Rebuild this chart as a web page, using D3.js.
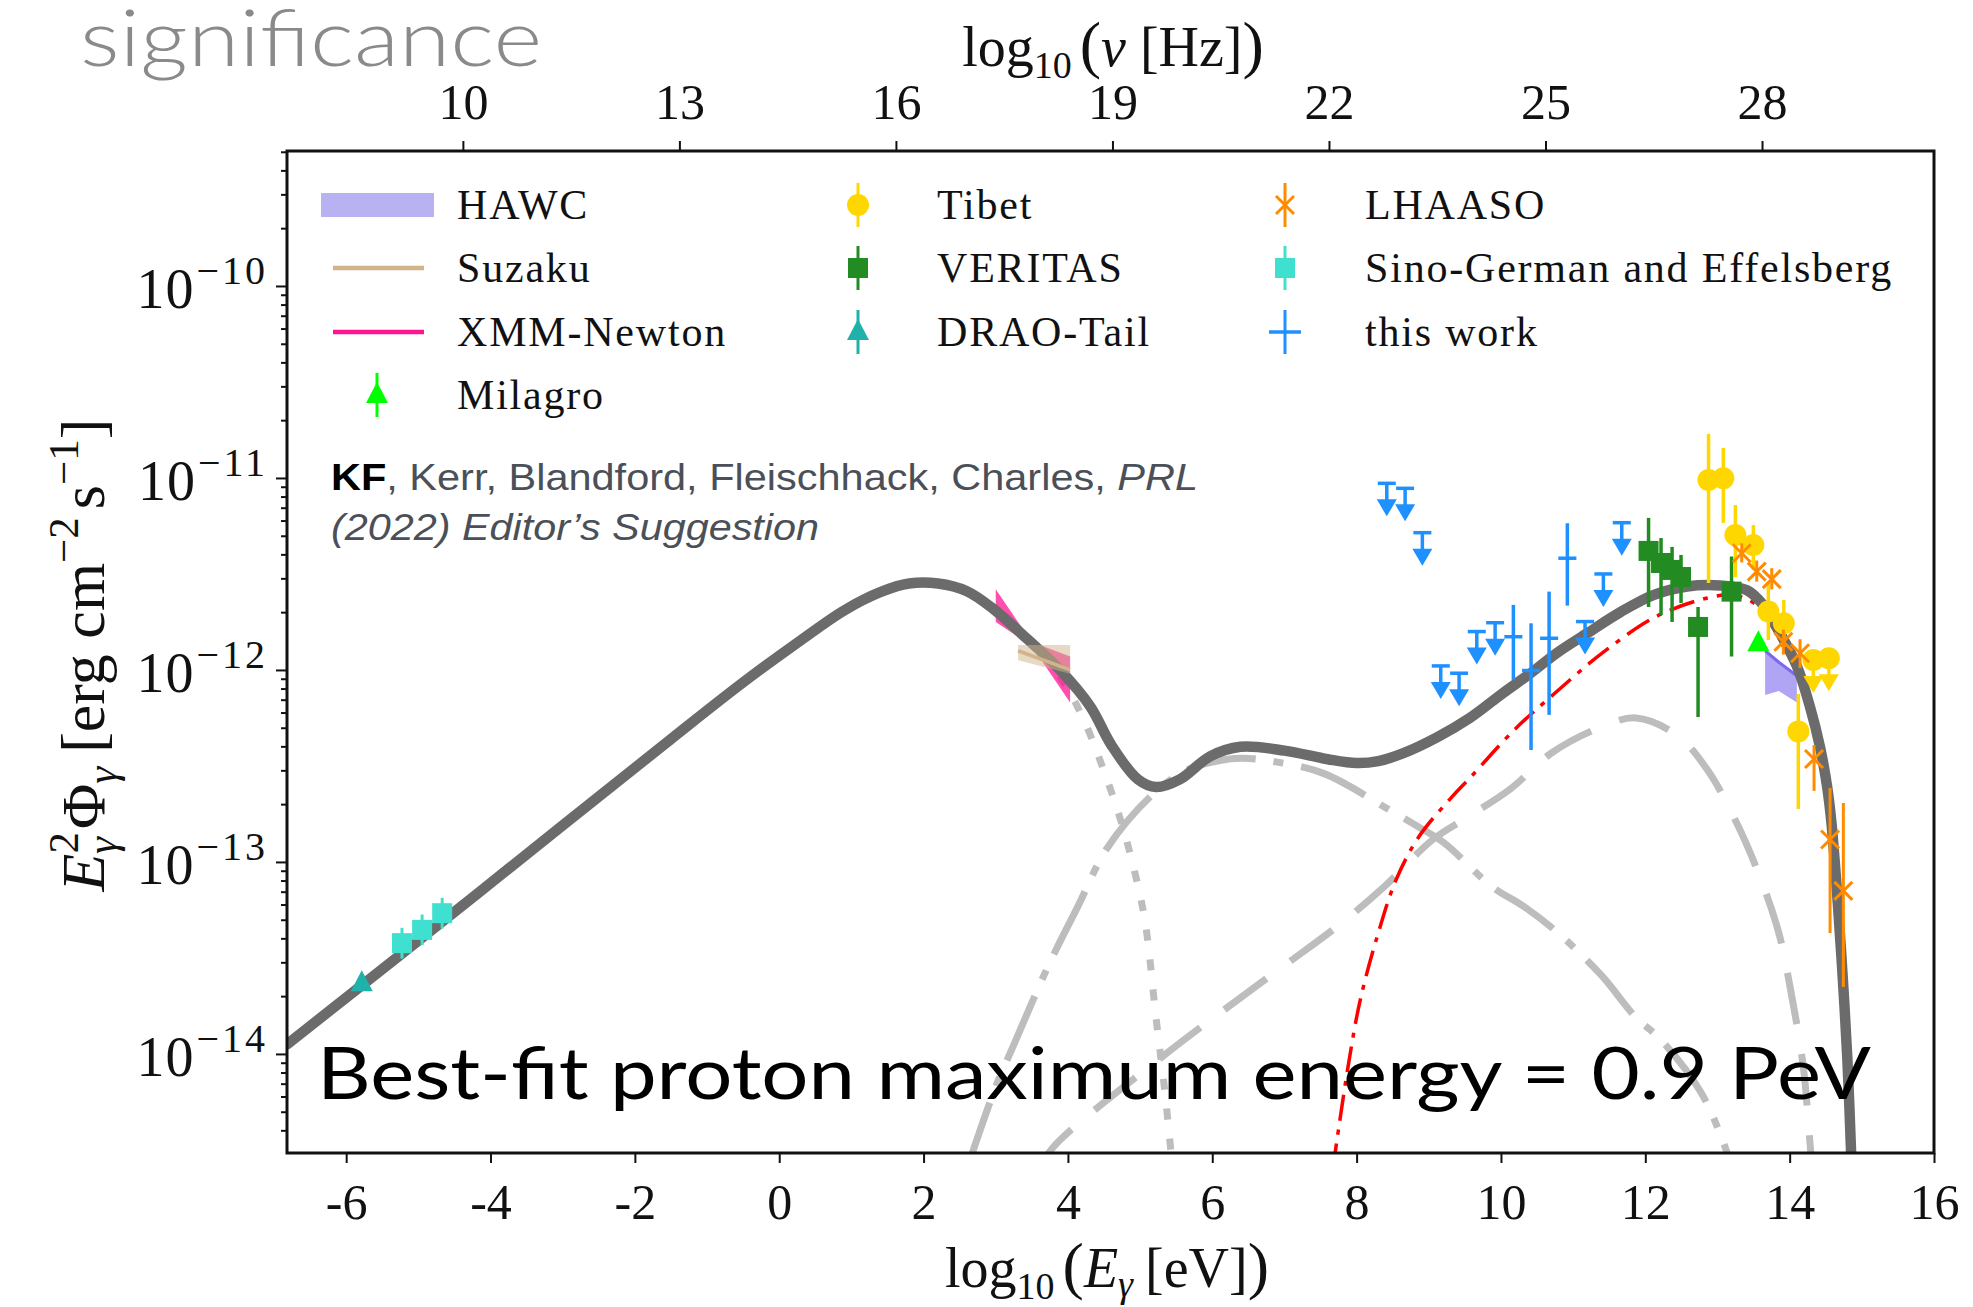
<!DOCTYPE html>
<html><head><meta charset="utf-8">
<script src="https://cdn.jsdelivr.net/npm/d3@7"></script>
<style>body{margin:0;background:#fff;}</style>
</head><body>
<svg id="chart" width="1973" height="1307" xmlns="http://www.w3.org/2000/svg"></svg>
<script>
// ---------------- DATA (x = log10(E/eV), y = log10(E^2 Phi)) ----------------
const xTicks = [-6,-4,-2,0,2,4,6,8,10,12,14,16];
const nuTicks = [10,13,16,19,22,25,28];
const yTickExps = [-10,-11,-12,-13,-14];
const yMinorMantissas = [2,3,4,5,6,7,8,9];

const totalModel = [[-6.82,-13.95],[-5,-13.41],[-3,-12.81],[-1.5,-12.36],[-0.5,-12.065],[0.3,-11.845],[0.9,-11.69],[1.4,-11.595],[1.8,-11.55],[2.2,-11.55],[2.6,-11.59],[2.96,-11.68],[3.44,-11.84],[3.89,-12.0],[4.31,-12.19],[4.6,-12.39],[4.97,-12.57],[5.22,-12.61],[5.55,-12.57],[5.97,-12.45],[6.39,-12.40],[7.0,-12.42],[7.6,-12.465],[8.0,-12.485],[8.3,-12.475],[8.64,-12.435],[9.12,-12.35],[9.57,-12.25],[10.03,-12.12],[10.4,-12.02],[10.78,-11.91],[11.19,-11.81],[11.65,-11.70],[12.11,-11.61],[12.58,-11.565],[13.04,-11.56],[13.41,-11.585],[13.63,-11.66],[13.87,-11.81],[14.1,-11.98],[14.28,-12.19],[14.42,-12.4],[14.52,-12.61],[14.58,-12.8],[14.67,-13.23],[14.74,-13.63],[14.8,-14.03],[14.86,-14.6]];
const synchrotron = [[3.0,-11.70],[3.5,-11.87],[3.9,-12.04],[4.22,-12.26],[4.56,-12.59],[4.72,-12.77],[4.85,-12.94],[5.06,-13.29],[5.22,-13.81],[5.35,-14.22],[5.45,-14.6]];
const inverseCompton = [[2.6,-14.6],[3.0,-14.17],[3.23,-13.97],[3.73,-13.54],[4.14,-13.23],[4.54,-12.93],[5.14,-12.66],[5.6,-12.53],[6.0,-12.48],[6.4,-12.46],[6.9,-12.48],[7.55,-12.54],[8.46,-12.73],[8.87,-12.82],[9.21,-12.9],[9.88,-13.13],[10.31,-13.23],[10.79,-13.37],[11.39,-13.59],[11.87,-13.81],[12.2,-13.92],[12.77,-14.2],[13.1,-14.48],[13.2,-14.6]];
const secondaryComponent = [[3.6,-14.6],[3.81,-14.48],[5.39,-13.99],[6.22,-13.755],[6.97,-13.547],[7.72,-13.339],[8.38,-13.13],[9.05,-12.885],[9.54,-12.766],[10.13,-12.62],[10.71,-12.43],[11.37,-12.30],[11.87,-12.25],[12.44,-12.34],[12.86,-12.52],[13.27,-12.80],[13.60,-13.09],[13.85,-13.37],[14.02,-13.68],[14.19,-14.07],[14.27,-14.41],[14.31,-14.6]];
const pionDecay = [[7.67,-14.6],[7.88,-14.07],[8.05,-13.72],[8.30,-13.37],[8.55,-13.09],[8.86,-12.87],[9.3,-12.67],[9.6,-12.55],[10.19,-12.31],[10.75,-12.12],[11.41,-11.91],[12.16,-11.72],[12.86,-11.625],[13.2,-11.61],[13.5,-11.65],[13.8,-11.8],[14.1,-12.02],[14.3,-12.25],[14.5,-12.66],[14.64,-13.15],[14.74,-13.7],[14.84,-14.6]];

// this work: upper limits [x, y]
const thisWorkUL = [[8.418,-11.028],[8.672,-11.054],[8.911,-11.285],[9.166,-11.979],[9.42,-12.017],[9.665,-11.80],[9.919,-11.754],[11.165,-11.748],[11.419,-11.50],[11.674,-11.233]];
// this work: detections [x, y, yLow, yHigh]
const thisWork = [[10.172,-11.827,-12.052,-11.661],[10.417,-12.003,-12.417,-11.757],[10.667,-11.835,-12.234,-11.592],[10.92,-11.418,-11.665,-11.236]];
const thisWorkXerr = 0.125;
const veritas = [[12.045,-11.38,-11.672,-11.208],[12.218,-11.443,-11.714,-11.313],[12.371,-11.479,-11.75,-11.359],[12.495,-11.516,-11.651,-11.401],[12.731,-11.776,-12.245,-11.672],[13.195,-11.592,-11.93,-11.409]];
const tibet = [[12.876,-11.01,-11.547,-10.771],[13.081,-11.002,-11.234,-10.844],[13.248,-11.297,-11.516,-11.141],[13.497,-11.349,-11.479,-11.245],[13.705,-11.696,-11.844,-11.547],[13.919,-11.757,-11.88,-11.635],[14.12,-12.32,-12.724,-12.125]];
const tibetUL = [[14.328,-11.948],[14.543,-11.939]];
const lhaaso = [[13.336,-11.392,-11.44,-11.34],[13.544,-11.488,-11.54,-11.43],[13.752,-11.527,-11.58,-11.47],[13.913,-11.853,-11.92,-11.79],[14.144,-11.913,-11.99,-11.84],[14.338,-12.464,-12.63,-12.391],[14.56,-12.883,-13.37,-12.615],[14.744,-13.151,-13.651,-12.693]];
const milagro = [[13.566,-11.861]];
const hawcX = [13.66,13.85,14.10];
const hawcUpper = [-11.90,-11.96,-12.03];
const hawcLower = [-12.13,-12.11,-12.17];
const xmmX = [3.0,3.5,4.03];
const xmmUpper = [-11.58,-11.855,-11.93];
const xmmLower = [-11.75,-11.875,-12.17];
const suzakuX = [3.31,4.03];
const suzakuUpper = [-11.87,-11.87];
const suzakuLower = [-11.95,-12.02];
const suzakuFit = [-11.90,-12.0];
const sinoGerman = [[-5.227,-13.423],[-4.948,-13.354],[-4.67,-13.267]];
const sinoGermanErr = 0.08;
const draoTail = [[-5.784,-13.632]];

// legend entries
const legendCol1 = ["HAWC","Suzaku","XMM-Newton","Milagro"];
const legendCol2 = ["Tibet","VERITAS","DRAO-Tail"];
const legendCol3 = ["LHAASO","Sino-German and Effelsberg","this work"];

// ---------------- DRAWING ----------------
const L = 287, R = 1934, T = 151, B = 1153;
const C = {total:"#6b6b6b", comp:"#bdbdbd", red:"#ff0000", blue:"#1e90ff", green:"#228b22",
  gold:"#ffd700", orange:"#ff8c00", lime:"#00ff00", teal:"#20b2aa", turq:"#40e0d0",
  hawc:"#7b68ee", hawcLeg:"#b8b1f2", tan:"#d2b48c", pink:"#ff1493"};
const serif = "'Liberation Serif','DejaVu Serif',serif";

const x = d3.scaleLinear().domain([-6.82, 16]).range([L, R]);
const nu = d3.scaleLinear().domain([-6.82 + 14.383, 16 + 14.383]).range([L, R]);
const yLog = d3.scaleLog().domain([Math.pow(10,-14.516), Math.pow(10,-9.297)]).range([B, T]);
const Y = v => yLog(Math.pow(10, v));

const svg = d3.select("#chart");
svg.append("defs").append("clipPath").attr("id","clip")
  .append("rect").attr("x",L).attr("y",T).attr("width",R-L).attr("height",B-T);

const plot = svg.append("g").attr("clip-path","url(#clip)");
const line = d3.line().x(d=>x(d[0])).y(d=>Y(d[1])).curve(d3.curveCatmullRom.alpha(0.5));

// model components
plot.append("path").attr("d", line(synchrotron)).attr("fill","none").attr("stroke",C.comp)
  .attr("stroke-width",7).attr("stroke-dasharray","11,19");
plot.append("path").attr("d", line(inverseCompton)).attr("fill","none").attr("stroke",C.comp)
  .attr("stroke-width",7).attr("stroke-dasharray","70,18,10,18");
plot.append("path").attr("d", line(secondaryComponent)).attr("fill","none").attr("stroke",C.comp)
  .attr("stroke-width",7).attr("stroke-dasharray","52,30");
plot.append("path").attr("d", line(pionDecay)).attr("fill","none").attr("stroke",C.red)
  .attr("stroke-width",3.5).attr("stroke-dasharray","26,9,5,9");

// HAWC band
const band = (xs, up, lo) => {
  const p = xs.map((v,i)=>[x(v),Y(up[i])]).concat(xs.map((v,i)=>[x(v),Y(lo[i])]).reverse());
  return "M" + p.map(q=>q.join(",")).join("L") + "Z";
};
plot.append("path").attr("d", band(hawcX,hawcUpper,hawcLower)).attr("fill",C.hawc).attr("fill-opacity",0.6);
plot.append("path").attr("d", d3.line()(hawcX.map((v,i)=>[x(v),Y(hawcUpper[i])]))).attr("fill","none")
  .attr("stroke",C.hawc).attr("stroke-width",3);
// XMM bowtie
plot.append("path").attr("d", band(xmmX,xmmUpper,xmmLower)).attr("fill",C.pink).attr("fill-opacity",0.75);

// total
plot.append("path").attr("d", line(totalModel)).attr("fill","none").attr("stroke",C.total)
  .attr("stroke-width",10.5).attr("stroke-linecap","round");

// Suzaku
plot.append("path").attr("d", band(suzakuX,suzakuUpper,suzakuLower)).attr("fill",C.tan).attr("fill-opacity",0.5);
plot.append("path").attr("d", d3.line()(suzakuX.map((v,i)=>[x(v),Y(suzakuFit[i])]))).attr("fill","none")
  .attr("stroke",C.tan).attr("stroke-width",3.5);

// ---- marker helpers ----
function vbar(g, cx, y1, y2, col, w){ g.append("line").attr("x1",cx).attr("x2",cx).attr("y1",y1).attr("y2",y2).attr("stroke",col).attr("stroke-width",w||3.5); }
function marker(g, type, cx, cy, col){
  if(type==="circle") g.append("circle").attr("cx",cx).attr("cy",cy).attr("r",11).attr("fill",col);
  else if(type==="square") g.append("rect").attr("x",cx-10).attr("y",cy-10).attr("width",20).attr("height",20).attr("fill",col);
  else if(type==="tri") g.append("path").attr("d",`M${cx},${cy-13}L${cx+11},${cy+8}L${cx-11},${cy+8}Z`).attr("fill",col);
  else if(type==="x") g.append("path").attr("d",`M${cx-9},${cy-9}L${cx+9},${cy+9}M${cx-9},${cy+9}L${cx+9},${cy-9}`).attr("stroke",col).attr("stroke-width",3);
  else if(type==="plus") g.append("path").attr("d",`M${cx-16},${cy}L${cx+16},${cy}`).attr("stroke",col).attr("stroke-width",3.5);
}
function ulArrow(g, cx, cy, col, cap){
  if(cap) g.append("line").attr("x1",cx-9).attr("x2",cx+9).attr("y1",cy).attr("y2",cy).attr("stroke",col).attr("stroke-width",3.5);
  vbar(g, cx, cy, cy+20, col);
  g.append("path").attr("d",`M${cx-10},${cy+16}L${cx+10},${cy+16}L${cx},${cy+33}Z`).attr("fill",col);
}

const pts = svg.append("g").attr("clip-path","url(#clip)");
thisWorkUL.forEach(d=>ulArrow(pts, x(d[0]), Y(d[1]), C.blue, true));
thisWork.forEach(d=>{
  vbar(pts, x(d[0]), Y(d[2]), Y(d[3]), C.blue);
  pts.append("line").attr("x1",x(d[0]-thisWorkXerr)).attr("x2",x(d[0]+thisWorkXerr)).attr("y1",Y(d[1])).attr("y2",Y(d[1]))
    .attr("stroke",C.blue).attr("stroke-width",3.5);
});
veritas.forEach(d=>{ vbar(pts, x(d[0]), Y(d[2]), Y(d[3]), C.green); marker(pts,"square",x(d[0]),Y(d[1]),C.green); });
tibet.forEach(d=>{ vbar(pts, x(d[0]), Y(d[2]), Y(d[3]), C.gold); marker(pts,"circle",x(d[0]),Y(d[1]),C.gold); });
tibetUL.forEach(d=>{ ulArrow(pts, x(d[0]), Y(d[1]), C.gold, false); marker(pts,"circle",x(d[0]),Y(d[1]),C.gold); });
lhaaso.forEach(d=>{ vbar(pts, x(d[0]), Y(d[2]), Y(d[3]), C.orange, 3); marker(pts,"x",x(d[0]),Y(d[1]),C.orange); });
milagro.forEach(d=>marker(pts,"tri",x(d[0]),Y(d[1]),C.lime));
sinoGerman.forEach(d=>{ vbar(pts, x(d[0]), Y(d[1]-sinoGermanErr), Y(d[1]+sinoGermanErr), C.turq, 3); marker(pts,"square",x(d[0]),Y(d[1]),C.turq); });
draoTail.forEach(d=>marker(pts,"tri",x(d[0]),Y(d[1]),C.teal));

// ---------------- AXES ----------------
const ax = svg.append("g");
const botAxis = ax.append("g").attr("transform",`translate(0,${B})`)
  .call(d3.axisBottom(x).tickValues(xTicks).tickSize(10).tickPadding(20).tickFormat(d=>String(d)));
const topAxis = ax.append("g").attr("transform",`translate(0,${T})`)
  .call(d3.axisTop(nu).tickValues(nuTicks).tickSize(10).tickPadding(22).tickFormat(d=>String(d)));
[botAxis, topAxis].forEach(g=>{
  g.select(".domain").remove();
  g.selectAll(".tick line").attr("stroke","#111").attr("stroke-width",2);
  g.selectAll(".tick text").attr("font-family",serif).attr("font-size",50).attr("fill","#111");
});
const minorVals = [];
for(let e=-15;e<=-9;e++) yMinorMantissas.forEach(m=>{ const v=m*Math.pow(10,e); if(v>yLog.domain()[0] && v<yLog.domain()[1]) minorVals.push(v); });
const leftAxis = ax.append("g").attr("transform",`translate(${L},0)`);
leftAxis.call(d3.axisLeft(yLog).tickValues(minorVals).tickSize(6).tickFormat(""));
leftAxis.append("g").call(d3.axisLeft(yLog).tickValues(yTickExps.map(e=>Math.pow(10,e))).tickSize(11).tickFormat(""));
leftAxis.selectAll(".domain").remove();
leftAxis.selectAll(".tick line").attr("stroke","#111").attr("stroke-width",2);
yTickExps.forEach(e=>{
  const t = ax.append("text").attr("x",268).attr("y",Y(e)+22).attr("text-anchor","end")
    .attr("font-family",serif).attr("font-size",56).attr("fill","#111");
  t.append("tspan").attr("letter-spacing",1).text("10");
  t.append("tspan").attr("dy",-24).attr("dx",2).attr("font-size",40).attr("letter-spacing",3).text("\u2212"+Math.abs(e));
});
ax.append("rect").attr("x",L).attr("y",T).attr("width",R-L).attr("height",B-T)
  .attr("fill","none").attr("stroke","#111").attr("stroke-width",3);

// axis labels
const xl = svg.append("text").attr("x",1107).attr("y",1287).attr("text-anchor","middle")
  .attr("font-family",serif).attr("font-size",56).attr("fill","#111");
xl.append("tspan").text("log");
xl.append("tspan").attr("font-size",38).attr("dy",12).text("10");
xl.append("tspan").attr("font-size",64).attr("dy",-12).attr("dx",8).text("(");
xl.append("tspan").attr("font-style","italic").text("E");
xl.append("tspan").attr("font-style","italic").attr("font-size",38).attr("dy",10).text("\u03b3");
xl.append("tspan").attr("dy",-10).attr("dx",12).text("[eV]");
xl.append("tspan").attr("font-size",64).text(")");

const tl = svg.append("text").attr("x",1113).attr("y",66).attr("text-anchor","middle")
  .attr("font-family",serif).attr("font-size",56).attr("fill","#111");
tl.append("tspan").text("log");
tl.append("tspan").attr("font-size",38).attr("dy",12).text("10");
tl.append("tspan").attr("font-size",64).attr("dy",-12).attr("dx",8).text("(");
tl.append("tspan").attr("font-style","italic").text("\u03bd");
tl.append("tspan").attr("dx",14).text("[Hz]");
tl.append("tspan").attr("font-size",64).text(")");

const yl = svg.append("text").attr("transform","translate(104,655) rotate(-90)").attr("text-anchor","middle")
  .attr("font-family",serif).attr("font-size",62).attr("fill","#111");
yl.append("tspan").attr("font-style","italic").text("E");
yl.append("tspan").attr("font-size",43).attr("dy",-26).text("2");
yl.append("tspan").attr("font-style","italic").attr("font-size",43).attr("dx",-22).attr("dy",38).text("\u03b3");
yl.append("tspan").attr("dy",-12).attr("dx",8).text("\u03a6");
yl.append("tspan").attr("font-style","italic").attr("font-size",43).attr("dy",12).text("\u03b3");
yl.append("tspan").attr("dy",-12).attr("dx",14).text("[erg cm");
yl.append("tspan").attr("font-size",43).attr("dy",-26).text("\u22122");
yl.append("tspan").attr("dy",26).attr("dx",8).text("s");
yl.append("tspan").attr("font-size",43).attr("dy",-26).text("\u22121");
yl.append("tspan").attr("dy",26).text("]");

// legend
const lg = svg.append("g");
const rows = [205, 268, 332, 395];
const colHandle = [377, 858, 1285], colText = [457, 937, 1365];
function legText(ci, ri, s){
  lg.append("text").attr("x",colText[ci]).attr("y",rows[ri]+14).attr("font-family",serif)
    .attr("font-size",42).attr("letter-spacing",1.8).attr("fill","#111").text(s);
}
legendCol1.forEach((s,i)=>legText(0,i,s));
legendCol2.forEach((s,i)=>legText(1,i,s));
legendCol3.forEach((s,i)=>legText(2,i,s));
lg.append("rect").attr("x",321).attr("y",rows[0]-12).attr("width",113).attr("height",24).attr("fill",C.hawcLeg);
lg.append("line").attr("x1",333).attr("x2",424).attr("y1",rows[1]).attr("y2",rows[1]).attr("stroke",C.tan).attr("stroke-width",4.5);
lg.append("line").attr("x1",333).attr("x2",424).attr("y1",rows[2]).attr("y2",rows[2]).attr("stroke",C.pink).attr("stroke-width",4.5);
vbar(lg, colHandle[0], rows[3]-22, rows[3]+22, C.lime, 3); marker(lg,"tri",colHandle[0],rows[3],C.lime);
vbar(lg, colHandle[1], rows[0]-22, rows[0]+22, C.gold, 3); marker(lg,"circle",colHandle[1],rows[0],C.gold);
vbar(lg, colHandle[1], rows[1]-22, rows[1]+22, C.green, 3); marker(lg,"square",colHandle[1],rows[1],C.green);
vbar(lg, colHandle[1], rows[2]-22, rows[2]+22, C.teal, 3); marker(lg,"tri",colHandle[1],rows[2],C.teal);
vbar(lg, colHandle[2], rows[0]-22, rows[0]+22, C.orange, 3); marker(lg,"x",colHandle[2],rows[0],C.orange);
vbar(lg, colHandle[2], rows[1]-22, rows[1]+22, C.turq, 3); marker(lg,"square",colHandle[2],rows[1],C.turq);
vbar(lg, colHandle[2], rows[2]-22, rows[2]+22, C.blue, 3); marker(lg,"plus",colHandle[2],rows[2],C.blue);

// annotations
svg.append("text").attr("x",80).attr("y",66).attr("font-family","Lato, 'Open Sans', sans-serif").attr("font-weight",300)
  .attr("font-size",78).attr("fill","#8a8a8a").attr("textLength",462).attr("lengthAdjust","spacingAndGlyphs").text("significance");

const kf = svg.append("text").attr("x",331).attr("y",490).attr("font-family","'Liberation Sans', Arial, sans-serif")
  .attr("font-size",36).attr("fill","#4b5058").attr("textLength",867).attr("lengthAdjust","spacingAndGlyphs");
kf.append("tspan").attr("font-weight","bold").attr("fill","#000").text("KF");
kf.append("tspan").text(", Kerr, Blandford, Fleischhack, Charles, ");
kf.append("tspan").attr("font-style","italic").text("PRL");
svg.append("text").attr("x",331).attr("y",540).attr("font-family","'Liberation Sans', Arial, sans-serif")
  .attr("font-size",36).attr("fill","#4b5058").attr("font-style","italic").attr("textLength",488)
  .attr("lengthAdjust","spacingAndGlyphs").text("(2022) Editor\u2019s Suggestion");

svg.append("text").attr("x",317).attr("y",1099).attr("font-family","Lato, 'Open Sans', sans-serif")
  .attr("font-size",72).attr("fill","#000").attr("textLength",1554).attr("lengthAdjust","spacingAndGlyphs")
  .text("Best-fit proton maximum energy = 0.9 PeV");
</script>
</body></html>
